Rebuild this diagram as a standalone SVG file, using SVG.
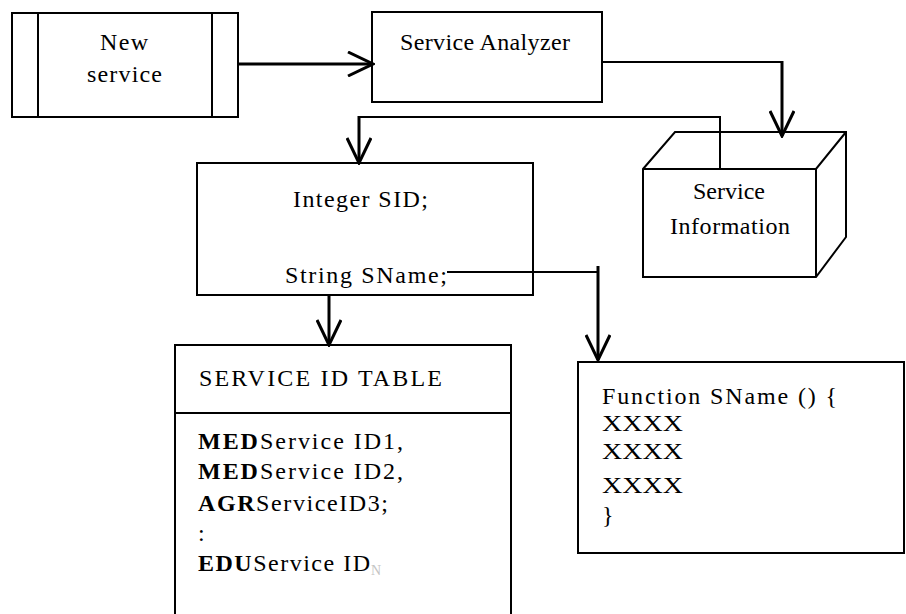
<svg xmlns="http://www.w3.org/2000/svg" width="906" height="614" viewBox="0 0 906 614">
<style>
.box{fill:#fff;stroke:#000;stroke-width:2}
.ln{fill:none;stroke:#000;stroke-width:2}
.thk{fill:none;stroke:#000;stroke-width:3}
text{font-family:"Liberation Serif","Times New Roman",serif;font-size:24px;fill:#000}
text.sub{font-size:14px;fill:#c4c4c4}
tspan.b{font-weight:bold}
</style>
<defs>
<marker id="arr" markerUnits="userSpaceOnUse" viewBox="0 0 28 26" refX="26" refY="13" markerWidth="28" markerHeight="26" orient="auto">
<path d="M1,1 L26,13 L1,25" fill="none" stroke="#000" stroke-width="3"/>
</marker>
</defs>
<rect width="906" height="614" fill="#fff"/>
<g id="new-service">
<rect class="box" x="12" y="13" width="226" height="104"/>
<line class="ln" x1="38" y1="13" x2="38" y2="117"/>
<line class="ln" x1="212" y1="13" x2="212" y2="117"/>
<text x="100" y="50" textLength="48">New</text>
<text x="87" y="82" textLength="75">service</text>
</g>
<g id="service-analyzer">
<rect class="box" x="372" y="12" width="230" height="90"/>
<text x="400" y="50" textLength="170">Service Analyzer</text>
</g>
<g id="service-information">
<path class="box" d="M643,169 L675,132 L846,132 L846,237 L816,277 L643,277 Z"/>
<path class="ln" d="M643,169 L816,169 L846,132 M816,169 L816,277"/>
<text x="693" y="199" textLength="72">Service</text>
<text x="670" y="234" textLength="120">Information</text>
</g>
<g id="service-record">
<rect class="box" x="197" y="163" width="336" height="132"/>
<text x="293" y="207" textLength="135">Integer SID;</text>
<text x="285" y="283" textLength="162">String SName;</text>
</g>
<g id="service-id-table">
<rect class="box" x="175" y="345" width="336" height="280"/>
<line class="ln" x1="175" y1="413" x2="511" y2="413"/>
<text x="199" y="386" textLength="243">SERVICE ID TABLE</text>
<text x="198" y="449" textLength="205"><tspan class="b">MED</tspan>Service ID1,</text>
<text x="198" y="479" textLength="205"><tspan class="b">MED</tspan>Service ID2,</text>
<text x="198" y="511" textLength="190"><tspan class="b">AGR</tspan>ServiceID3;</text>
<text x="198" y="541">:</text>
<text x="198" y="571" textLength="172"><tspan class="b">EDU</tspan>Service ID</text>
<text class="sub" x="371" y="575">N</text>
</g>
<g id="function-sname">
<rect class="box" x="578" y="362" width="326" height="191"/>
<text x="602" y="404" textLength="235">Function SName () {</text>
<text x="602" y="431" textLength="81" lengthAdjust="spacingAndGlyphs">XXXX</text>
<text x="602" y="459" textLength="81" lengthAdjust="spacingAndGlyphs">XXXX</text>
<text x="602" y="493" textLength="81" lengthAdjust="spacingAndGlyphs">XXXX</text>
<text x="602" y="523">}</text>
</g>
<g id="connectors">
<line class="thk" x1="238" y1="64" x2="373" y2="64" marker-end="url(#arr)"/>
<path class="ln" d="M602,62 L782,62"/>
<line class="thk" x1="782" y1="61" x2="782" y2="136" marker-end="url(#arr)"/>
<path class="ln" d="M720,169 L720,117 L359,117"/>
<line class="thk" x1="359" y1="116" x2="359" y2="163" marker-end="url(#arr)"/>
<line class="thk" x1="329" y1="295" x2="329" y2="345" marker-end="url(#arr)"/>
<path class="ln" d="M447,272 L598,272"/>
<line class="thk" x1="598" y1="266" x2="598" y2="360" marker-end="url(#arr)"/>
</g>
</svg>
